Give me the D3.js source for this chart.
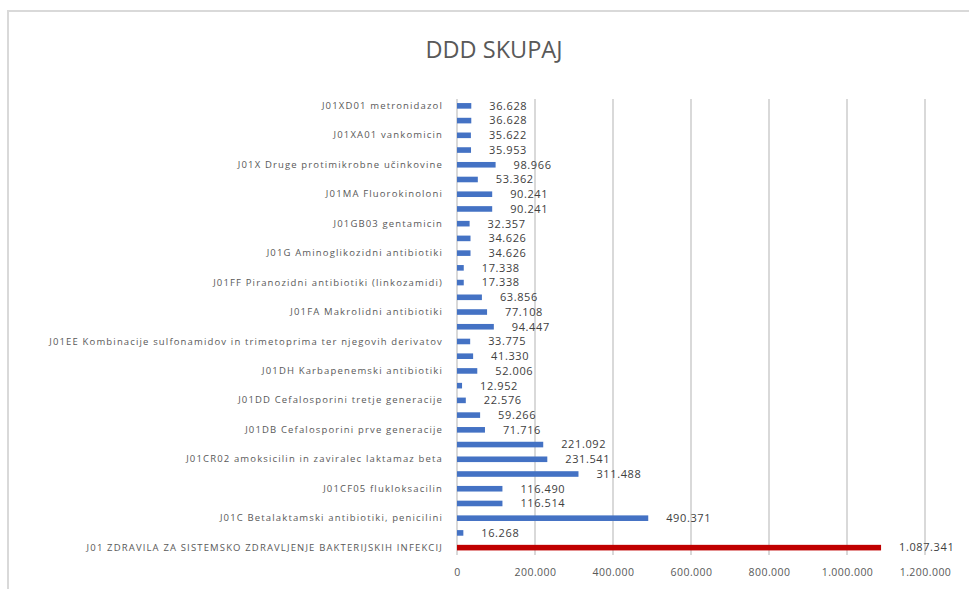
<!DOCTYPE html>
<meta charset="utf-8">
<head>
<style>
body {
  margin: 0;
  background: #fff;
  font-family: 'Open Sans', 'Liberation Sans', sans-serif;
}

.frame {
  fill: none;
  stroke: #d9d9d9;
  stroke-width: 2;
}

.title {
  font-size: 23.5px;
  fill: #595959;
}

.grid line {
  stroke: #d9d9d9;
  stroke-width: 1.5;
  shape-rendering: crispEdges;
}

.axis {
  font-family: 'Open Sans', 'Liberation Sans', sans-serif;
}

.axis path,
.axis line {
  display: none;
}

.x.axis text {
  font-size: 10.5px;
  fill: #595959;
  letter-spacing: 0.45px;
}

.y.axis text {
  font-size: 9.5px;
  fill: #595959;
  letter-spacing: 1.15px;
}

.bar {
  fill: #4472c4;
}

.bar.total {
  fill: #c00000;
}

.value {
  font-size: 11px;
  fill: #404040;
  letter-spacing: 0.6px;
}
</style>
</head>

<body>
<div id="chart"></div>

<script src="https://d3js.org/d3.v7.min.js"></script>
<script>

// categories top to bottom; "" = label Excel skipped on the axis
var categories = [
  "J01XD01 metronidazol", "",
  "J01XA01 vankomicin", "",
  "J01X Druge protimikrobne učinkovine", "",
  "J01MA Fluorokinoloni", "",
  "J01GB03 gentamicin", "",
  "J01G Aminoglikozidni antibiotiki", "",
  "J01FF Piranozidni antibiotiki (linkozamidi)", "",
  "J01FA Makrolidni antibiotiki", "",
  "J01EE Kombinacije sulfonamidov in trimetoprima ter njegovih derivatov", "",
  "J01DH Karbapenemski antibiotiki", "",
  "J01DD Cefalosporini tretje generacije", "",
  "J01DB Cefalosporini prve generacije", "",
  "J01CR02 amoksicilin in zaviralec laktamaz beta", "",
  "J01CF05 flukloksacilin", "",
  "J01C Betalaktamski antibiotiki, penicilini", "",
  "J01 ZDRAVILA ZA SISTEMSKO ZDRAVLJENJE BAKTERIJSKIH INFEKCIJ"
];

var ddd = [
  36628, 36628, 35622, 35953, 98966, 53362, 90241, 90241,
  32357, 34626, 34626, 17338, 17338, 63856, 77108, 94447,
  33775, 41330, 52006, 12952, 22576, 59266, 71716, 221092,
  231541, 311488, 116490, 116514, 490371, 16268, 1087341
];

var xTicks = [0, 200000, 400000, 600000, 800000, 1000000, 1200000];

var totalIndex = 30;

var W = 969, H = 589;
var margin = {top: 98.5, right: 44, bottom: 34, left: 457},
    width = W - margin.left - margin.right,
    height = H - margin.top - margin.bottom;

var sl = d3.formatLocale({decimal: ",", thousands: ".", grouping: [3], currency: ["", " €"]});
var fmt = sl.format(",d");

var data = ddd.map(function(v, i) { return {i: i, name: categories[i], value: v}; });

var x = d3.scaleLinear()
    .domain([0, 1200000])
    .range([0, width]);

var y = d3.scaleBand()
    .domain(d3.range(data.length))
    .range([0, height])
    .paddingInner(0.62)
    .paddingOuter(0.31);

var svg = d3.select("#chart").append("svg")
    .attr("width", W)
    .attr("height", H);

svg.append("rect")
    .attr("class", "frame")
    .attr("x", 8)
    .attr("y", 11)
    .attr("width", W)
    .attr("height", H);

svg.append("text")
    .attr("class", "title")
    .attr("x", 494)
    .attr("y", 58)
    .attr("text-anchor", "middle")
    .text("DDD SKUPAJ");

var g = svg.append("g")
    .attr("transform", "translate(" + margin.left + "," + margin.top + ")");

g.append("g")
    .attr("class", "grid")
  .selectAll("line")
    .data(xTicks)
  .enter().append("line")
    .attr("x1", function(d) { return x(d); })
    .attr("x2", function(d) { return x(d); })
    .attr("y1", 0)
    .attr("y2", height);

g.append("g")
    .attr("class", "x axis")
    .attr("transform", "translate(0," + height + ")")
    .call(d3.axisBottom(x).tickValues(xTicks).tickFormat(fmt).tickSize(0).tickPadding(14));

g.append("g")
    .attr("class", "y axis")
    .call(d3.axisLeft(y)
      .tickValues(d3.range(data.length).filter(function(i) { return categories[i] !== ""; }))
      .tickFormat(function(i) { return categories[i]; })
      .tickSize(0)
      .tickPadding(14));

g.selectAll(".bar")
    .data(data)
  .enter().append("rect")
    .attr("class", function(d) { return d.i === totalIndex ? "bar total" : "bar"; })
    .attr("x", x(0))
    .attr("y", function(d) { return y(d.i); })
    .attr("width", function(d) { return x(d.value) - x(0); })
    .attr("height", y.bandwidth());

g.selectAll(".value")
    .data(data)
  .enter().append("text")
    .attr("class", "value")
    .attr("x", function(d) { return x(d.value) + 18; })
    .attr("y", function(d) { return y(d.i) + y.bandwidth() / 2; })
    .attr("dy", "0.35em")
    .text(function(d) { return fmt(d.value); });

</script>
</body>
